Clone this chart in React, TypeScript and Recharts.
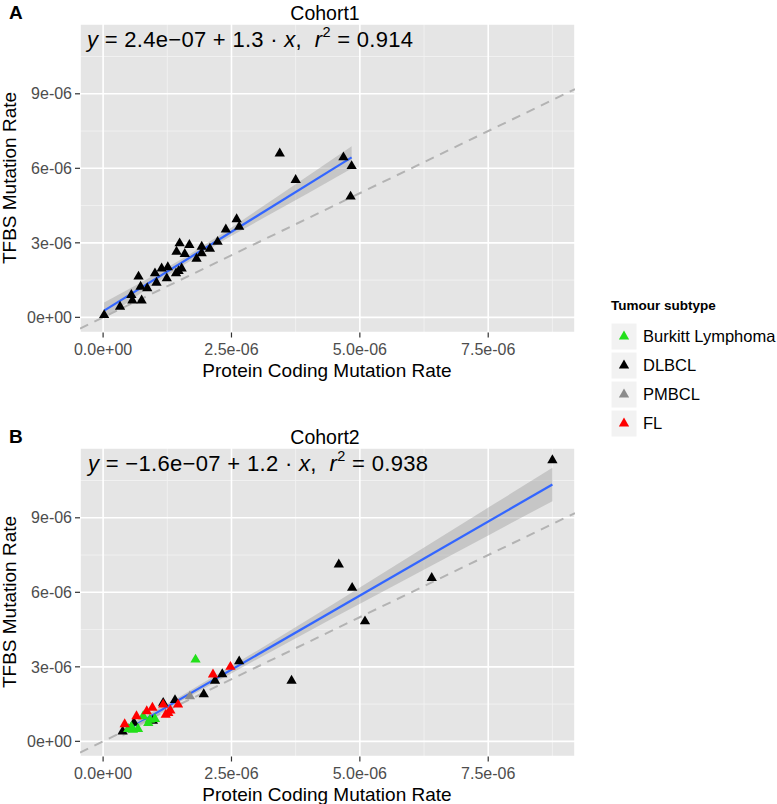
import React from "react";
import {
  ComposedChart,
  Scatter,
  Line,
  Area,
  XAxis,
  YAxis,
  CartesianGrid,
  Symbols,
} from "recharts";

const FONT = '"Liberation Sans", Arial, Helvetica, sans-serif';

// all rates are in units of 1e-06
const xTicks = [0, 2.5, 5, 7.5];
const xTickLabels = ["0.0e+00", "2.5e-06", "5.0e-06", "7.5e-06"];
const yTicks = [0, 3, 6, 9];
const yTickLabels = ["0e+00", "3e-06", "6e-06", "9e-06"];
const xMinor = [1.25, 3.75, 6.25, 8.75];
const yMinor = [1.5, 4.5, 7.5, 10.5];
const xDomain = [-0.45, 9.19];
const yDomain = [-0.61, 11.81];

const subtypes = ["Burkitt Lymphoma", "DLBCL", "PMBCL", "FL"];
const subtypeColors = ["#22e01a", "#000000", "#8c8c8c", "#ff0000"];

const cohort1Dlbcl = [
  [0.02, 0.09], [0.33, 0.43], [0.55, 0.9], [0.57, 0.68], [0.75, 0.68],
  [0.69, 1.64], [0.73, 1.23], [0.86, 1.17], [1.01, 1.77], [1.04, 1.39],
  [1.14, 1.97], [1.24, 1.57], [1.26, 2.02], [1.42, 1.77], [1.43, 2.64],
  [1.49, 2.98], [1.53, 1.97], [1.59, 2.55], [1.68, 2.91], [1.47, 1.86],
  [1.82, 2.36], [1.92, 2.84], [1.92, 2.58], [2.08, 2.76], [2.23, 3.04],
  [2.39, 3.54], [2.6, 3.95], [2.65, 3.65], [3.44, 6.6], [3.75, 5.53],
  [4.68, 6.44], [4.84, 6.09], [4.82, 4.86],
];

const cohort2Dlbcl = [
  [0.38, 0.4], [0.6, 0.75], [0.97, 0.83], [1.17, 1.55], [1.4, 1.66],
  [1.96, 1.9], [2.18, 2.44], [2.32, 2.7], [2.65, 3.22], [3.67, 2.44],
  [4.59, 7.12], [4.85, 6.18], [5.1, 4.83], [6.4, 6.58], [8.75, 11.32],
];
const cohort2Pmbcl = [[1.69, 1.81]];
const cohort2Burkitt = [
  [1.8, 3.29], [0.91, 0.87], [1.01, 0.9], [0.78, 1.01], [0.68, 0.5],
  [0.58, 0.47], [0.49, 0.5], [0.88, 0.74], [0.55, 0.58],
];
const cohort2Fl = [
  [0.42, 0.69], [0.65, 1.01], [0.85, 1.21], [0.96, 1.35], [1.17, 1.48],
  [1.22, 1.07], [1.27, 1.14], [1.31, 1.24], [1.46, 1.48], [2.14, 2.69],
  [2.48, 3.0],
];

// fitted lines and their confidence bands
const fit1 = [[0.02, 0.27], [4.84, 6.44]];
const band1X = [0.02, 0.8, 1.6, 2.4, 3.2, 4.0, 4.84];
const band1Lo = [-0.06, 1.07, 2.15, 3.16, 4.09, 5.01, 5.99];
const band1Hi = [0.6, 1.47, 2.43, 3.48, 4.59, 5.71, 6.89];

const fit2 = [[0.38, 0.36], [8.75, 10.34]];
const band2X = [0.38, 1.5, 3.0, 4.5, 6.0, 7.5, 8.75];
const band2Lo = [0.19, 1.59, 3.31, 4.99, 6.64, 8.29, 9.67];
const band2Hi = [0.53, 1.81, 3.65, 5.55, 7.48, 9.41, 11.01];

const identity = [[-0.45, -0.45], [9.19, 9.19]];

const pts = (a: number[][]) => a.map(([x, y]) => ({ x, y }));
const bandData = (xs: number[], lo: number[], hi: number[]) =>
  xs.map((x, i) => ({ x, range: [lo[i], hi[i]] }));

const tri = (color: string) => (p: any) =>
  <Symbols type="triangle" size={46} cx={p.cx} cy={p.cy} fill={color} stroke="none" />;

type Series = { name: string; points: number[][] };

function Panel({ top, series, fit, band }: { top: number; series: Series[]; fit: number[][]; band: any[] }) {
  return (
    <div style={{ position: "absolute", left: 0, top, width: 600, height: 400 }}>
      <ComposedChart width={600} height={400} margin={{ top: 24, right: 25, bottom: 27.5, left: 10 }}>
        <CartesianGrid
          fill="#e5e5e5"
          fillOpacity={1}
          stroke="#f2f2f2"
          strokeWidth={0.9}
          verticalValues={xMinor}
          horizontalValues={yMinor}
        />
        <CartesianGrid stroke="#ffffff" strokeWidth={1.6} />
        <XAxis
          type="number"
          dataKey="x"
          domain={xDomain}
          ticks={xTicks}
          interval={0}
          allowDataOverflow
          axisLine={false}
          tickSize={5}
          tickMargin={6}
          tickLine={{ stroke: "#333333", strokeWidth: 1.2 }}
          tick={{ fill: "#4d4d4d", fontSize: 16, fontFamily: FONT }}
          tickFormatter={(v: number) => xTickLabels[xTicks.indexOf(v)]}
          height={40}
        />
        <YAxis
          type="number"
          dataKey="y"
          domain={yDomain}
          ticks={yTicks}
          interval={0}
          allowDataOverflow
          axisLine={false}
          tickSize={5}
          tickMargin={3}
          tickLine={{ stroke: "#333333", strokeWidth: 1.2 }}
          tick={{ fill: "#4d4d4d", fontSize: 16, fontFamily: FONT }}
          tickFormatter={(v: number) => yTickLabels[yTicks.indexOf(v)]}
          width={70}
        />
        <Area
          data={band}
          dataKey="range"
          type="linear"
          fill="#999999"
          fillOpacity={0.4}
          stroke="none"
          isAnimationActive={false}
        />
        {series.map((s) => (
          <Scatter
            key={s.name}
            name={s.name}
            data={pts(s.points)}
            shape={tri(subtypeColors[subtypes.indexOf(s.name)])}
            isAnimationActive={false}
          />
        ))}
        <Line
          data={pts(fit)}
          dataKey="y"
          type="linear"
          stroke="#3366ff"
          strokeWidth={2.2}
          dot={false}
          isAnimationActive={false}
        />
        <Line
          data={pts(identity)}
          dataKey="y"
          type="linear"
          stroke="#b3b3b3"
          strokeWidth={2}
          strokeDasharray="9 7"
          dot={false}
          isAnimationActive={false}
        />
      </ComposedChart>
    </div>
  );
}

function Equation({ x, y, w, a, b, r2 }: { x: number; y: number; w: number; a: string; b: string; r2: string }) {
  return (
    <text x={x} y={y} fontSize={22} fill="#000" fontFamily={FONT} xmlSpace="preserve"
      textLength={w} lengthAdjust="spacing">
      <tspan fontStyle="italic">y</tspan>
      <tspan>{` = ${a} + ${b} \u00b7 `}</tspan>
      <tspan fontStyle="italic">x</tspan>
      <tspan>{",  "}</tspan>
      <tspan fontStyle="italic">r</tspan>
      <tspan dy={-10} fontSize={14.5}>2</tspan>
      <tspan dy={10}>{" = " + r2}</tspan>
    </text>
  );
}

function PanelText({ dy, tag, title, eq }: { dy: number; tag: string; title: string; eq: any }) {
  return (
    <g transform={`translate(0,${dy})`} fontFamily={FONT}>
      <text x={9} y={18.5} fontSize={19} fontWeight="bold">{tag}</text>
      <text x={325} y={19.5} fontSize={19.5} textAnchor="middle">{title}</text>
      {eq}
      <text x={327} y={377} fontSize={19} textAnchor="middle">Protein Coding Mutation Rate</text>
      <text transform="translate(16,178) rotate(-90)" fontSize={19} textAnchor="middle">TFBS Mutation Rate</text>
    </g>
  );
}

export default function App() {
  return (
    <div style={{ position: "absolute", left: 0, top: 0, width: 777, height: 804, background: "#ffffff", overflow: "hidden" }}>
      <Panel
        top={0}
        series={[{ name: "DLBCL", points: cohort1Dlbcl }]}
        fit={fit1}
        band={bandData(band1X, band1Lo, band1Hi)}
      />
      <Panel
        top={424}
        series={[
          { name: "DLBCL", points: cohort2Dlbcl },
          { name: "PMBCL", points: cohort2Pmbcl },
          { name: "Burkitt Lymphoma", points: cohort2Burkitt },
          { name: "FL", points: cohort2Fl },
        ]}
        fit={fit2}
        band={bandData(band2X, band2Lo, band2Hi)}
      />
      <svg width={777} height={804} style={{ position: "absolute", left: 0, top: 0, pointerEvents: "none" }}>
        <PanelText dy={0} tag="A" title="Cohort1"
          eq={<Equation x={87} y={47} w={326} a={"2.4e\u221207"} b="1.3" r2="0.914" />} />
        <PanelText dy={424} tag="B" title="Cohort2"
          eq={<Equation x={88} y={47} w={340} a={"\u22121.6e\u221207"} b="1.2" r2="0.938" />} />
        <g fontFamily={FONT}>
          <text x={611} y={310} fontSize={13.5} fontWeight="bold">Tumour subtype</text>
          {subtypes.map((s, i) => (
            <g key={s}>
              <rect x={611} y={323 + i * 29} width={26} height={27} fill="#f2f2f2" stroke="#ffffff" />
              <Symbols type="triangle" size={46} cx={624} cy={336.5 + i * 29} fill={subtypeColors[i]} />
              <text x={643} y={342 + i * 29} fontSize={16.5}>{s}</text>
            </g>
          ))}
        </g>
      </svg>
    </div>
  );
}
